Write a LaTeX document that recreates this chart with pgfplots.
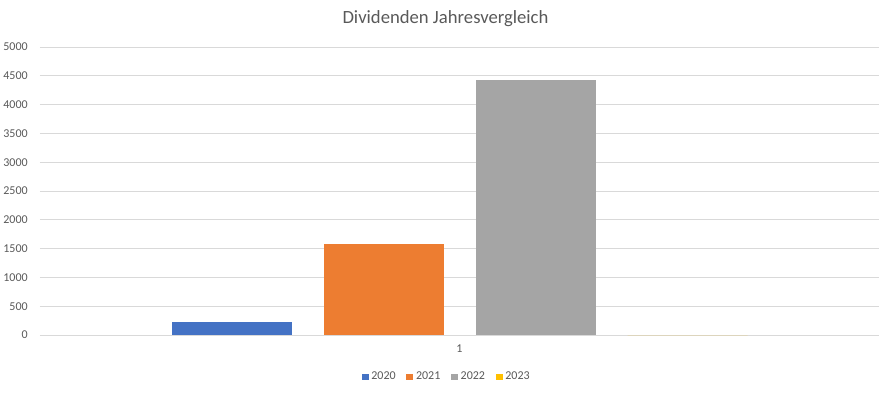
\documentclass[border=0pt]{standalone}
\usepackage{pgfplots}
\pgfplotsset{compat=1.18}
\usepackage{fontspec}
\setmainfont{Carlito}
\definecolor{c20}{HTML}{4472C4}
\definecolor{c21}{HTML}{ED7D31}
\definecolor{c22}{HTML}{A5A5A5}
\definecolor{c23}{HTML}{FFC000}
\definecolor{txt}{HTML}{595959}
\definecolor{gridc}{HTML}{D9D9D9}
\begin{document}
\begin{tikzpicture}
\path[use as bounding box] (-30pt,-44.25pt) rectangle (638.25pt,251.25pt);
\begin{axis}[
  at={(0,0)}, anchor=south west,
  scale only axis, width=629.25pt, height=216pt,
  xmin=0.5, xmax=1.5, ymin=0, ymax=5000,
  xtick={1}, xticklabels={1},
  ytick={0,500,...,5000},
  ymajorgrids, grid style={gridc, line width=0.75pt},
  axis line style={draw=none},
  major tick length=0pt,
  tick label style={font=\fontsize{9}{11}\selectfont, text=txt},
  yticklabel style={inner sep=0pt, xshift=-9pt},
  xticklabel style={inner sep=0pt, yshift=-7pt},
  /pgf/number format/assume math mode=true,
  /pgf/number format/1000 sep={},
  ybar=24pt, bar width=90pt,
  legend style={draw=none, at={(305.25pt,-31.5pt)}, anchor=center, legend columns=-1,
    font=\fontsize{9}{11}\selectfont, text=txt,
    /tikz/every even column/.append style={column sep=6pt}},
  legend image code/.code={\fill[#1] (0pt,-2.6pt) rectangle (5.25pt,2.6pt);},
  clip=false,
]
\addplot[fill=c20, draw=none] coordinates {(1,226)};
\addplot[fill=c21, draw=none] coordinates {(1,1580)};
\addplot[fill=c22, draw=none] coordinates {(1,4427)};
\addplot[fill=c23, draw=none] coordinates {(1,0)};
\legend{2020,2021,2022,2023}
\end{axis}
\node[text=txt, font=\fontsize{14}{17}\selectfont] at (304.1pt,237pt) {Dividenden Jahresvergleich};
\end{tikzpicture}
\end{document}
